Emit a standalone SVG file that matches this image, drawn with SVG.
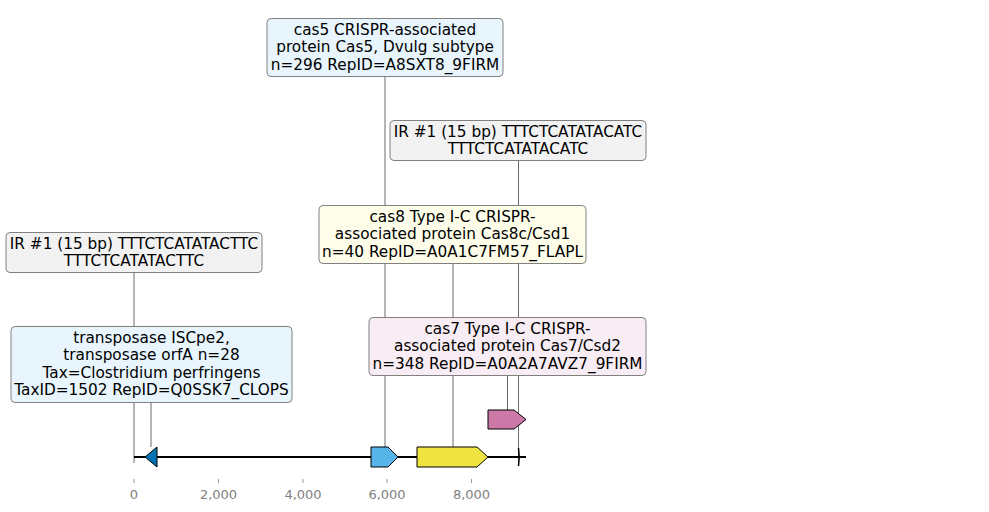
<svg xmlns="http://www.w3.org/2000/svg" width="989" height="512" viewBox="0 0 989 512">
<style>
.box{stroke:#808080;stroke-width:1}
.t{font-family:"DejaVu Sans",sans-serif;font-size:15.3px;fill:#000;text-anchor:middle}
.c{stroke:#444;stroke-width:0.8;fill:none}
.g{stroke:#000;stroke-width:1}
.tick{stroke:#808080;stroke-width:0.8}
.tl{font-family:"DejaVu Sans",sans-serif;font-size:13px;fill:#808080;text-anchor:middle}
</style>
<rect width="989" height="512" fill="#fff"/>
<g id="connectors">
<line class="c" x1="134" y1="272" x2="134" y2="463"/>
<line class="c" x1="151" y1="402" x2="151" y2="447"/>
<line class="c" x1="385" y1="76" x2="385" y2="447"/>
<line class="c" x1="453" y1="263" x2="453" y2="447"/>
<line class="c" x1="518.5" y1="160" x2="518.5" y2="466"/>
<line class="c" x1="507.5" y1="375" x2="507.5" y2="410"/>
</g>
<g id="axis">
<line x1="134" y1="457" x2="526" y2="457" stroke="#000" stroke-width="2"/>
<line class="tick" x1="134" y1="479" x2="134" y2="483"/>
<line class="tick" x1="218.5" y1="479" x2="218.5" y2="483"/>
<line class="tick" x1="303" y1="479" x2="303" y2="483"/>
<line class="tick" x1="387" y1="479" x2="387" y2="483"/>
<line class="tick" x1="471.5" y1="479" x2="471.5" y2="483"/>
<text class="tl" x="134" y="499">0</text>
<text class="tl" x="218.5" y="499">2,000</text>
<text class="tl" x="303" y="499">4,000</text>
<text class="tl" x="387" y="499">6,000</text>
<text class="tl" x="471.5" y="499">8,000</text>
</g>
<g id="gene-transposase"><path class="g" d="M157,447 L157,467 L145,457 Z" fill="#0072b2"/></g>
<g id="gene-cas5"><path class="g" d="M371,447 L388,447 L398,457 L388,467 L371,467 Z" fill="#56b4e9"/></g>
<g id="gene-cas8"><path class="g" d="M417,447 L477,447 L488,457 L477,467 L417,467 Z" fill="#f0e442"/></g>
<g id="gene-cas7"><path class="g" d="M488,410 L514,410 L526,419.5 L514,429 L488,429 Z" fill="#cc79a7"/></g>
<g id="ir-right-mark"><path d="M518.5,448 Q520,457 518.5,466" stroke="#000" stroke-width="1.5" fill="none"/></g>
<g id="node-cas5">
<rect class="box" x="267" y="18.5" width="236" height="58" rx="4" fill="#e8f5fd"/>
<text class="t" x="385" y="34.5">cas5 CRISPR-associated</text>
<text class="t" x="385" y="52">protein Cas5, Dvulg subtype</text>
<text class="t" x="385" y="69.5">n=296 RepID=A8SXT8_9FIRM</text>
</g>
<g id="node-ir-right">
<rect class="box" x="390" y="120.5" width="256" height="40" rx="4" fill="#f2f2f2"/>
<text class="t" x="518" y="136.5">IR #1 (15 bp) TTTCTCATATACATC</text>
<text class="t" x="518" y="154">TTTCTCATATACATC</text>
</g>
<g id="node-cas8">
<rect class="box" x="319" y="205.5" width="267" height="58" rx="4" fill="#fdfde9"/>
<text class="t" x="452.5" y="221.5">cas8 Type I-C CRISPR-</text>
<text class="t" x="452.5" y="239">associated protein Cas8c/Csd1</text>
<text class="t" x="452.5" y="256.5">n=40 RepID=A0A1C7FM57_FLAPL</text>
</g>
<g id="node-ir-left">
<rect class="box" x="6" y="232.5" width="256" height="40" rx="4" fill="#f2f2f2"/>
<text class="t" x="134" y="248.5">IR #1 (15 bp) TTTCTCATATACTTC</text>
<text class="t" x="134" y="266">TTTCTCATATACTTC</text>
</g>
<g id="node-cas7">
<rect class="box" x="369" y="317.5" width="277" height="58" rx="4" fill="#f8edf4"/>
<text class="t" x="507.5" y="333.5">cas7 Type I-C CRISPR-</text>
<text class="t" x="507.5" y="351">associated protein Cas7/Csd2</text>
<text class="t" x="507.5" y="368.5">n=348 RepID=A0A2A7AVZ7_9FIRM</text>
</g>
<g id="node-transposase">
<rect class="box" x="11" y="326.5" width="281" height="76" rx="4" fill="#e8f5fd"/>
<text class="t" x="151.5" y="342.5">transposase ISCpe2,</text>
<text class="t" x="151.5" y="360">transposase orfA n=28</text>
<text class="t" x="151.5" y="377.5">Tax=Clostridium perfringens</text>
<text class="t" x="151.5" y="395">TaxID=1502 RepID=Q0SSK7_CLOPS</text>
</g>
</svg>
